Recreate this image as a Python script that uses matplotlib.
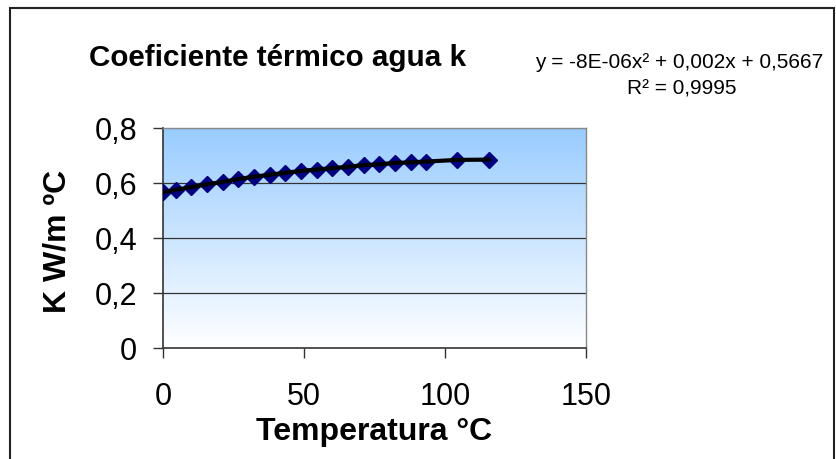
import matplotlib
matplotlib.use("Agg")
import matplotlib.pyplot as plt
import numpy as np
from matplotlib.colors import LinearSegmentedColormap
from matplotlib.patches import Rectangle

plt.rcParams['font.family'] = ['Liberation Sans', 'DejaVu Sans']

temperature = [0, 4.44, 10, 15.56, 21.11, 26.67, 32.22, 37.78, 43.33, 48.89,
               54.44, 60, 65.55, 71.11, 76.67, 82.22, 87.78, 93.33, 104.4, 115.6]
k_values = [0.566, 0.575, 0.585, 0.595, 0.604, 0.614, 0.623, 0.630, 0.637, 0.644,
            0.649, 0.654, 0.659, 0.665, 0.668, 0.673, 0.675, 0.678, 0.684, 0.685]
x_ticks = [0, 50, 100, 150]
y_ticks = [0, 0.2, 0.4, 0.6, 0.8]
y_tick_labels = ['0', '0,2', '0,4', '0,6', '0,8']
title = 'Coeficiente térmico agua k'
eq_text = 'y = -8E-06x² + 0,002x + 0,5667'
r2_text = 'R² = 0,9995'

W, H = 836, 460
fig = plt.figure(figsize=(W / 100, H / 100), dpi=100)
fig.patch.set_facecolor('white')

# chart border
fig.patches.append(Rectangle((10 / W, -0.05), (834 - 10) / W, 1.05 - 9 / H,
                             transform=fig.transFigure, fill=False,
                             edgecolor='#222222', linewidth=1.5))

left, right, top, bottom = 163, 586, 129, 349
ax = fig.add_axes([left / W, 1 - bottom / H, (right - left) / W, (bottom - top) / H])
ax.set_xlim(0, 150)
ax.set_ylim(0, 0.8)

cmap = LinearSegmentedColormap.from_list('g', ['#ffffff', '#99ccff'])
grad = np.linspace(0, 1, 256).reshape(-1, 1)
ax.imshow(grad, extent=[0, 150, 0, 0.8], origin='lower', aspect='auto',
          cmap=cmap, zorder=0)

for yv in y_ticks[1:-1]:
    ax.axhline(yv, color='#333333', linewidth=0.9, zorder=1)

ax.plot(temperature, k_values, linestyle='none', marker='D', markersize=8.5,
        markerfacecolor='#000080', markeredgecolor='#000080', zorder=3)
ax.plot(temperature, k_values, color='black', linewidth=3, zorder=4)

ax.set_xticks(x_ticks)
ax.set_xticklabels([str(v) for v in x_ticks], fontsize=22)
ax.set_yticks(y_ticks)
ax.set_yticklabels(y_tick_labels, fontsize=22)
ax.tick_params(axis='both', direction='out', length=7.5, width=1, color='#333333')
ax.tick_params(axis='y', pad=11)
ax.tick_params(axis='x', pad=16)

for s in ['top', 'right']:
    ax.spines[s].set_color('#888888')
    ax.spines[s].set_linewidth(1)
for s in ['left', 'bottom']:
    ax.spines[s].set_color('#333333')
    ax.spines[s].set_linewidth(1.2)

fig.text(278 / W, 1 - 58 / H, title, fontsize=21.3, fontweight='bold',
         ha='center', va='center')
fig.text(374 / W, 1 - 432 / H, 'Temperatura °C', fontsize=23, fontweight='bold',
         ha='center', va='center')
fig.text(58 / W, 1 - 241 / H, 'K W/m ºC', fontsize=23, fontweight='bold',
         ha='center', va='center', rotation=90)
fig.text(679 / W, 1 - 62 / H, eq_text, fontsize=15, ha='center', va='center')
fig.text(682 / W, 1 - 89 / H, r2_text, fontsize=15, ha='center', va='center')

fig.savefig('out.png', dpi=100)
